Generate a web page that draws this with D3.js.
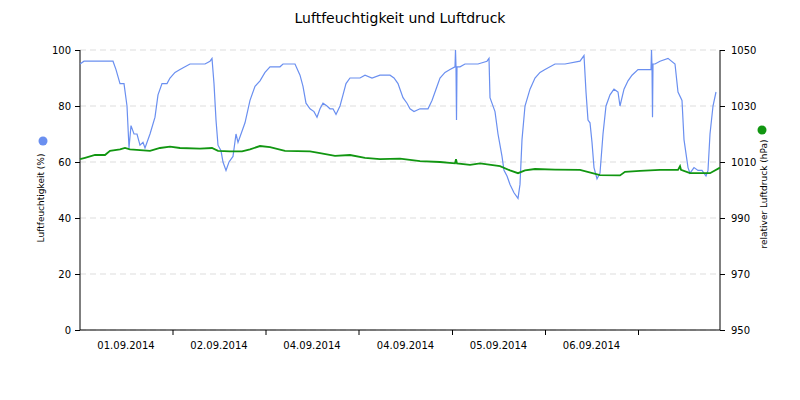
<!DOCTYPE html>
<html><head><meta charset="utf-8">
<script src="https://cdn.jsdelivr.net/npm/d3@7"></script>
<style>body{margin:0;background:#fff}text{font-family:"DejaVu Sans",sans-serif}</style>
</head><body><svg id="c" width="800" height="400"></svg>
<script>
// sample index (approx. 15.5 min per step) and values
const humIdx = [0,4,33,36,40,44,47,49,51,54,57,60,63,65,70,75,78,82,87,90,95,100,105,110,125,130,132,134,136,138,141,143,146,149,153,156,158,161,165,170,175,180,185,190,200,203,215,220,223,226,230,234,237,240,243,247,250,253,256,260,263,266,270,280,285,292,300,310,314,318,320,323,327,330,334,340,348,352,356,360,365,370,375,375.5,376,376.5,377,380,385,398,407,409,410,415,418,420,422,424,427,430,434,438,440,442,445,450,455,460,465,475,485,500,504,506,508,510,512,514,517,520,523,526,530,534,538,540,544,548,552,558,571,571.5,572,572.5,573,575,580,588,595,598,602,604,608,610,614,618,622,626,628,630,633,636,640];
const humVal = [95,96,96,93,88,88,80,65,73,70,70,66,67,65,70,76,84,88,88,90,92,93,94,95,95,96,97,88,75,66,64,60,57,60,62,70,67,70,74,82,87,89,92,94,94,95,95,91,87,81,79,78,76,79,81,80,79,79,77,80,84,88,90,90,91,90,91,91,90,88,86,83,81,79,78,79,79,82,86,90,92,93,94,100,94,75,94,94,95,95,96,97,83,78,70,66,62,57,55,52,49,47,52,68,80,86,90,92,93,95,95,96,98,85,75,74,67,58,54,56,70,80,84,86,85,80,86,89,91,93,93,100,94,76,95,95,96,97,95,85,82,68,58,56,58,57,57,55,57,70,80,85];
const presIdx = [0,5,15,25,30,40,45,50,70,80,90,100,120,132,138,150,162,170,180,190,205,230,240,255,270,285,300,320,340,360,375,376,377,390,400,420,430,438,445,455,475,500,520,540,545,560,580,598,600,601,610,630,640];
const presVal = [1011,1011.5,1012.5,1012.5,1014,1014.5,1015,1014.5,1014,1015,1015.5,1015,1014.8,1015,1014,1013.8,1013.8,1014.5,1015.7,1015.3,1014,1013.8,1013.2,1012.2,1012.5,1011.5,1011,1011.2,1010.3,1010,1009.5,1011,1009.5,1009,1009.5,1008.5,1007,1006,1007,1007.5,1007.3,1007.2,1005.3,1005.2,1006.5,1006.8,1007.2,1007.2,1008.5,1007.2,1006,1006,1008];
const dayTicks = [92.5,185.5,278.5,372,465,558];
const dayLabels = ["01.09.2014","02.09.2014","04.09.2014","04.09.2014","05.09.2014","06.09.2014"];
const humTicks = [0,20,40,60,80,100];
const presTicks = [950,970,990,1010,1030,1050];

const svg = d3.select("#c");
const m = {left:80, right:720, top:50, bottom:330};
const x = d3.scaleLinear().domain([0,640]).range([m.left,m.right]);
const yH = d3.scaleLinear().domain([0,100]).range([m.bottom,m.top]);
const yP = d3.scaleLinear().domain([950,1050]).range([m.bottom,m.top]);

svg.append("text").attr("x",400).attr("y",23).attr("text-anchor","middle")
  .style("font-size","14px").text("Luftfeuchtigkeit und Luftdruck");

// grid
svg.append("g").selectAll("line").data(humTicks).join("line")
  .attr("x1",m.left).attr("x2",m.right).attr("y1",d=>yH(d)).attr("y2",d=>yH(d))
  .attr("stroke","#ddd").attr("stroke-dasharray","6,4");

const ga = svg.append("g").attr("transform",`translate(${m.left},0)`)
  .call(d3.axisLeft(yH).tickValues(humTicks).tickSize(5).tickPadding(4));
const gb = svg.append("g").attr("transform",`translate(${m.right},0)`)
  .call(d3.axisRight(yP).tickValues(presTicks).tickFormat(d3.format("d")).tickSize(5).tickPadding(6));
const gx = svg.append("g").attr("transform",`translate(0,${m.bottom})`)
  .call(d3.axisBottom(x).tickValues(dayTicks).tickSize(5).tickFormat(""));
[ga,gb,gx].forEach(g=>{g.select(".domain").attr("stroke","#000");
  g.selectAll("text").style("font-size","10px").attr("fill","#000");});
ga.select(".domain").attr("d",`M0,${m.top}V${m.bottom}`);
gb.select(".domain").attr("d",`M0,${m.top}V${m.bottom}`);
gx.select(".domain").attr("d",`M${m.left},0H${m.right}`);

const mids = dayTicks.map(t=>t-46.5);
svg.append("g").selectAll("text").data(dayLabels).join("text")
  .attr("x",(d,i)=>x(mids[i])).attr("y",349).attr("text-anchor","middle")
  .style("font-size","10px").text(d=>d);

svg.append("text").attr("transform","translate(44,198) rotate(-90)").attr("text-anchor","middle")
  .style("font-size","9px").text("Luftfeuchtigkeit (%)");
svg.append("circle").attr("cx",43).attr("cy",141).attr("r",4.5).attr("fill","#6a8ff0");
svg.append("text").attr("transform","translate(767,194) rotate(-90)").attr("text-anchor","middle")
  .style("font-size","9px").text("relativer Luftdruck (hPa)");
svg.append("circle").attr("cx",762).attr("cy",130).attr("r",4.5).attr("fill","#119611");

svg.append("path").datum(d3.zip(humIdx,humVal))
  .attr("fill","none").attr("stroke","#6a8ff0").attr("stroke-width",1.2)
  .attr("d",d3.line().x(d=>x(d[0])).y(d=>yH(d[1])));
svg.append("path").datum(d3.zip(presIdx,presVal))
  .attr("fill","none").attr("stroke","#119611").attr("stroke-width",1.8)
  .attr("d",d3.line().x(d=>x(d[0])).y(d=>yP(d[1])));
</script></body></html>
